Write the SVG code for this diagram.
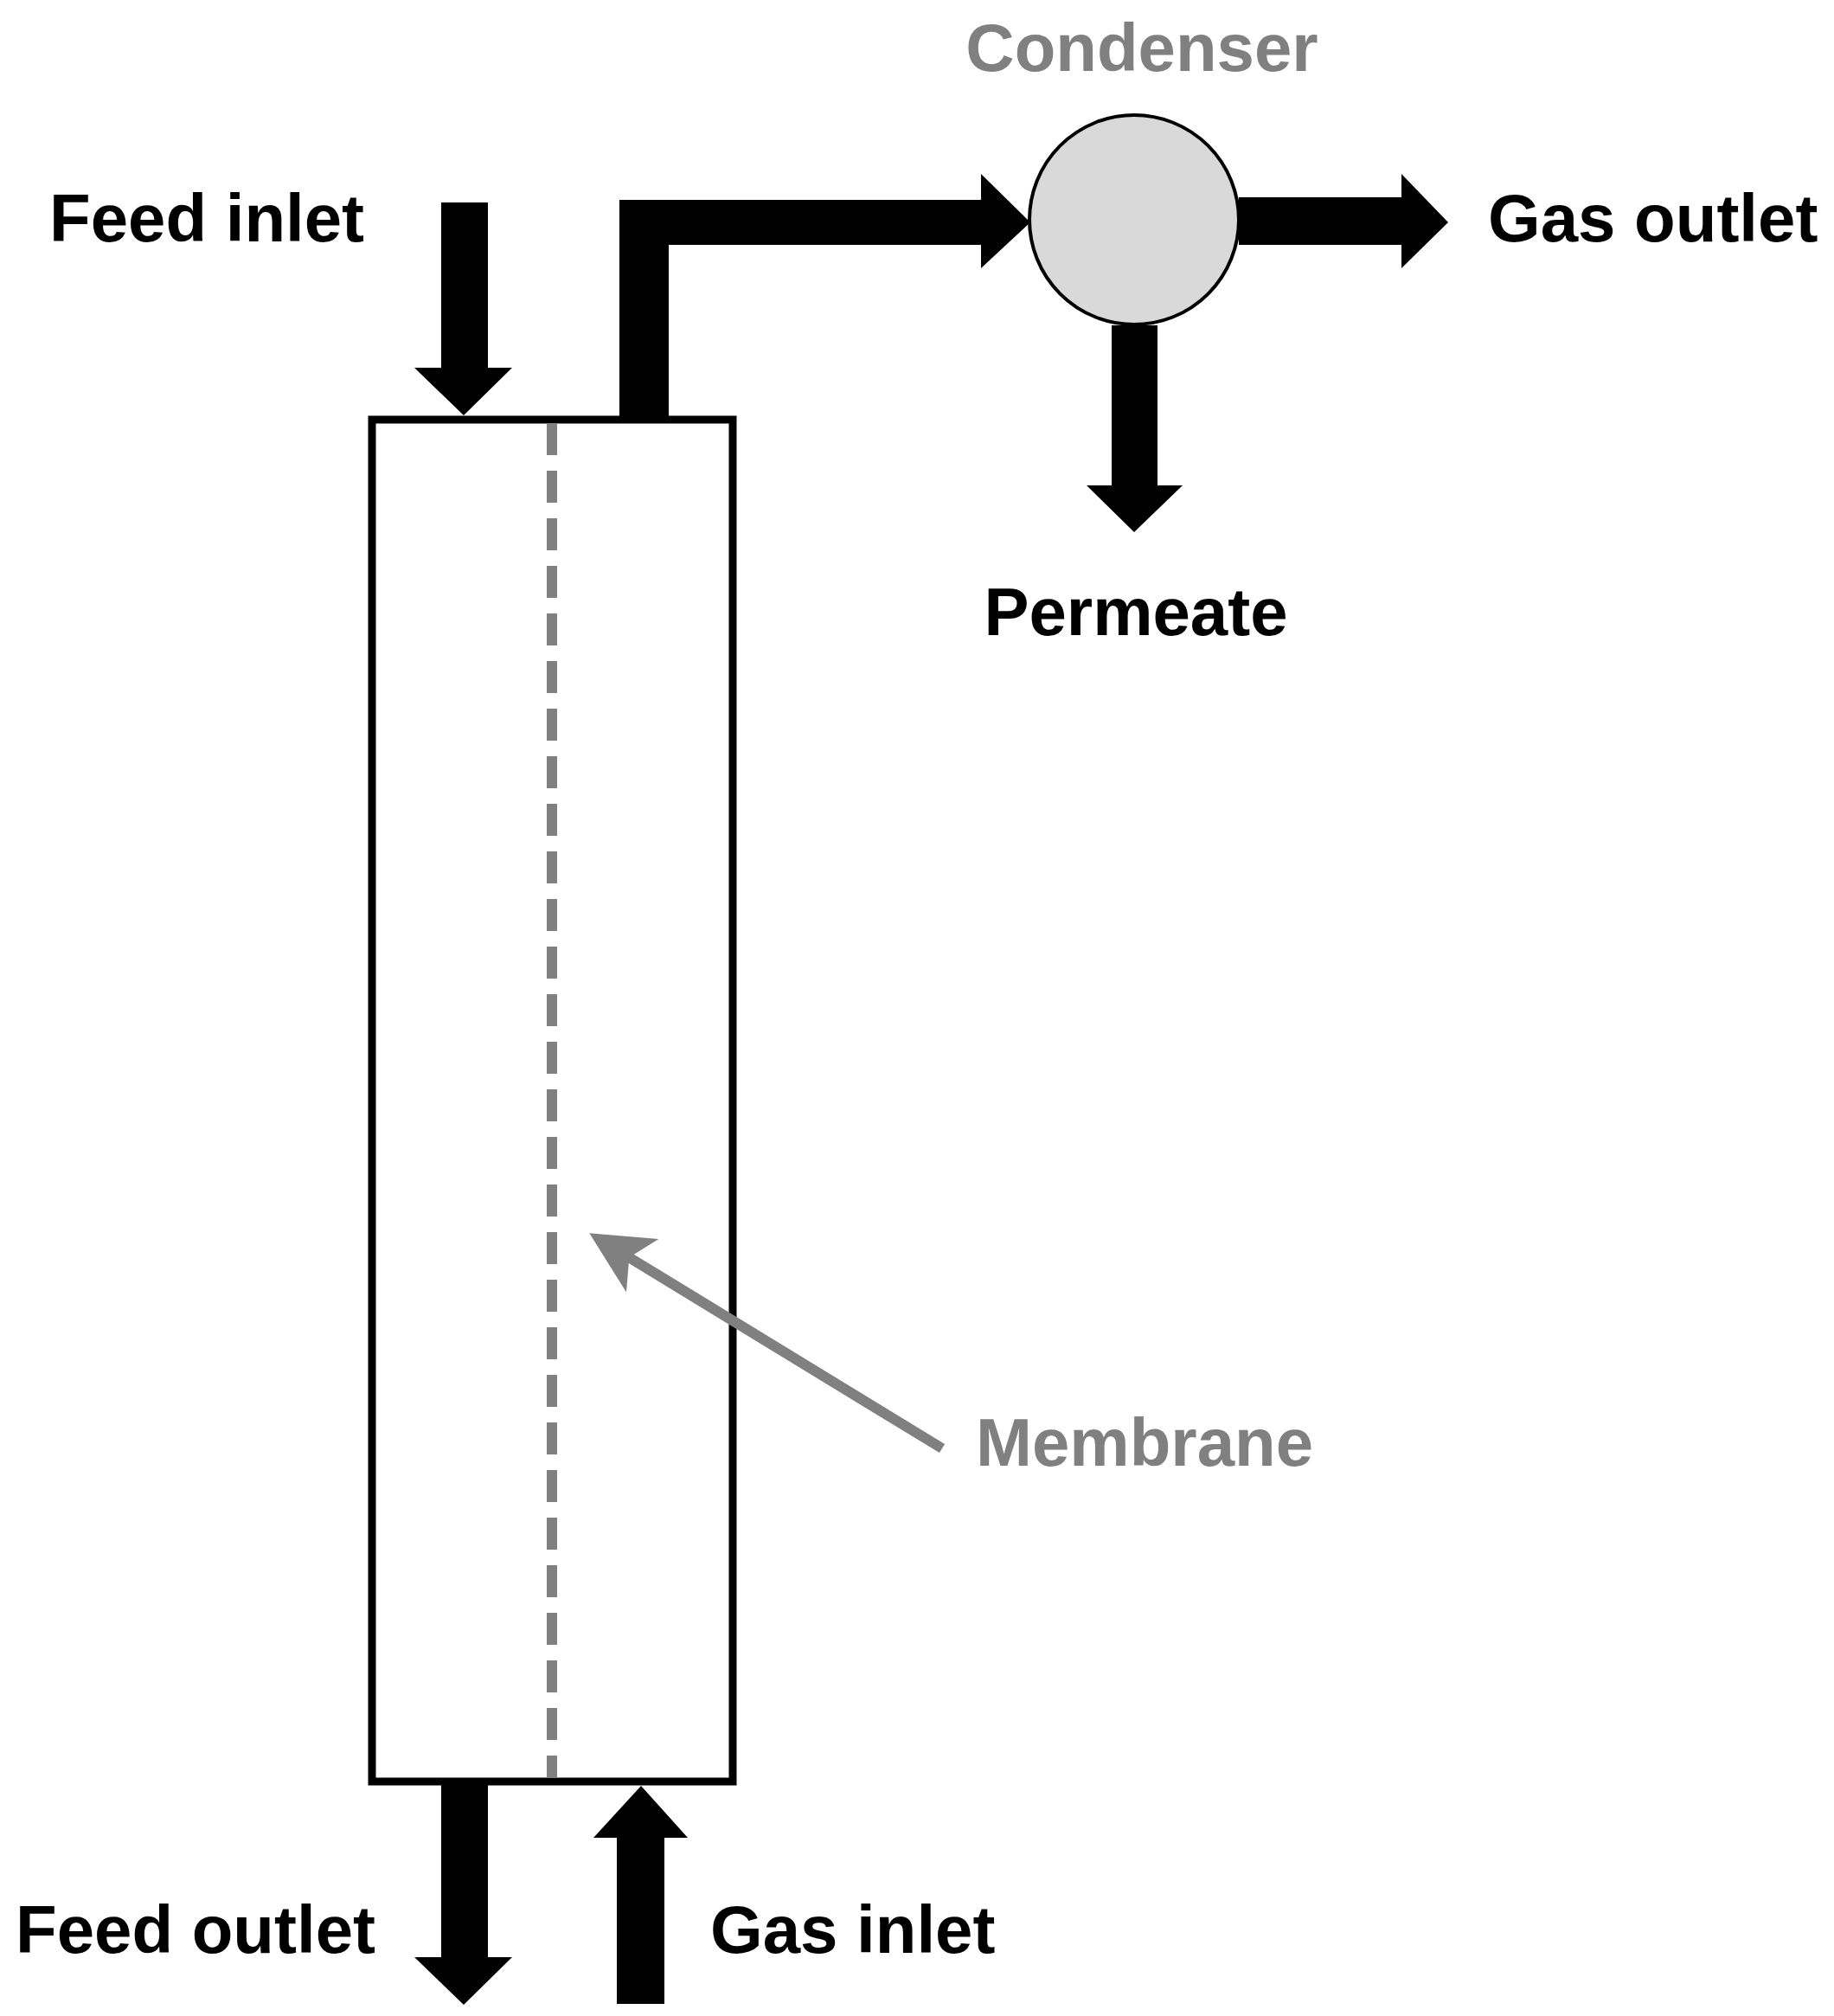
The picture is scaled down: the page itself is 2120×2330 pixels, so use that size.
<svg xmlns="http://www.w3.org/2000/svg" width="2120" height="2330" viewBox="0 0 2120 2330">
<style>
text{font-family:"Liberation Sans",Arial,sans-serif;font-weight:bold;font-size:78px}
.k{fill:#000}
.g{fill:#808080}
</style>
<defs>
<marker id="ga" markerWidth="6" markerHeight="6" refX="3" refY="3" orient="auto" markerUnits="strokeWidth"><path d="M0,0 L6,3 L0,6 L1.5,3 Z" fill="#808080"/></marker>
</defs>
<rect width="2120" height="2330" fill="#fff"/>
<g id="column">
<rect x="430" y="485" width="417" height="1574" fill="#fff" stroke="#000" stroke-width="9"/>
</g>
<g id="membrane">
<line x1="638" y1="489" x2="638" y2="2055" stroke="#808080" stroke-width="12" stroke-dasharray="37,18"/>
<text class="g" x="1128" y="1694">Membrane</text>
</g>
<g id="condenser">
<circle cx="1311" cy="254" r="121" fill="#d9d9d9" stroke="#000" stroke-width="4"/>
<text class="g" x="1320" y="82" text-anchor="middle">Condenser</text>
</g>
<g id="connectors">
<polygon class="k" points="510,234 564,234 564,425 592,425 536,480 479,425 510,425"/>
<polygon class="k" points="716,485 716,231 1134,231 1134,201 1191,257 1134,310 1134,283 773,283 773,485"/>
<polygon class="k" points="1432,228 1620,228 1620,201 1674,257 1620,310 1620,283 1432,283"/>
<polygon class="k" points="1285,376 1338,376 1338,561 1367,561 1311,615 1256,561 1285,561"/>
<polygon class="k" points="510,2062 564,2062 564,2262 592,2262 536,2317 479,2262 510,2262"/>
<polygon class="k" points="713,2316 713,2124 686,2124 741,2064 795,2124 768,2124 768,2316"/>
<line x1="1089" y1="1674" x2="712" y2="1444" stroke="#808080" stroke-width="12" marker-end="url(#ga)"/>
</g>
<g id="labels">
<text class="k" x="57" y="279">Feed inlet</text>
<text class="k" x="1720" y="279">Gas outlet</text>
<text class="k" x="1313" y="734" text-anchor="middle">Permeate</text>
<text class="k" x="18" y="2257">Feed outlet</text>
<text class="k" x="821" y="2257">Gas inlet</text>
</g>
</svg>
